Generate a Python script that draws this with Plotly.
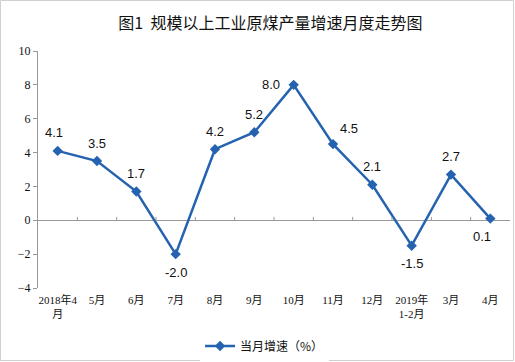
import plotly.graph_objects as go

categories = ["2018年4<br>月", "5月", "6月", "7月", "8月", "9月", "10月", "11月", "12月",
              "2019年<br>1-2月", "3月", "4月"]
growth = [4.1, 3.5, 1.7, -2.0, 4.2, 5.2, 8.0, 4.5, 2.1, -1.5, 2.7, 0.1]
series_name = "当月增速（%）"
title_text = "图1  规模以上工业原煤产量增速月度走势图"
y_ticks = [10, 8, 6, 4, 2, 0, -2, -4]

# label offsets (pixels) for each data label
label_dx = [-4, 0, 0, 0, 0, 0, -12, 16, 0, 0, 0, -8]
label_dy = [18, 18, 18, -18, 18, 18, 0, 16, 18, -18, 18, -18]
label_anchor = ["center"] * 12
label_anchor[6] = "right"

W, H = 515, 362
L, R, T, B = 38, 5, 51, 74
line_color = "#2563B0"

fig = go.Figure()
fig.add_trace(go.Scatter(
    x=categories, y=growth, mode="lines+markers", name=series_name,
    line=dict(color=line_color, width=2.5),
    marker=dict(symbol="diamond", size=8, color=line_color),
))

for i, (c, v) in enumerate(zip(categories, growth)):
    fig.add_annotation(
        x=c, y=v, text=f"{v:.1f}", showarrow=False,
        xshift=label_dx[i], yshift=label_dy[i], xanchor=label_anchor[i],
        font=dict(family="Liberation Sans, Arial", size=13, color="#111111"),
    )

# small tick marks on the zero line at category boundaries
for i in range(1, len(categories)):
    fig.add_shape(type="line", xref="x", yref="y", x0=i - 0.5, x1=i - 0.5,
                  y0=0, y1=0.2, line=dict(color="#999999", width=1))

pw, ph = W - L - R, H - T - B
fig.add_shape(type="rect", xref="paper", yref="paper",
              x0=-(L - 0.5) / pw, x1=1 + (R - 1.5) / pw,
              y0=-(B - 1.5) / ph, y1=1 + (T - 0.5) / ph,
              line=dict(color="#D0D0D0", width=1))

fig.update_layout(
    width=W, height=H,
    margin=dict(l=L, r=R, t=T, b=B, autoexpand=False),
    paper_bgcolor="white", plot_bgcolor="white",
    title=dict(text=title_text, x=0.525, xanchor="center", y=0.935, yanchor="middle",
               font=dict(family="Noto Sans CJK SC", size=16, color="#111111")),
    showlegend=True,
    legend=dict(orientation="h", x=0.48, xanchor="center", y=-0.245, yanchor="middle",
                itemwidth=30,
                font=dict(family="Noto Sans CJK SC", size=12, color="#111111")),
    xaxis=dict(showgrid=False, showline=False, zeroline=False, ticks="",
               automargin=False, ticklabelstandoff=4,
               tickfont=dict(family="Liberation Serif, Noto Sans CJK SC", size=11, color="#111111"),
               range=[-0.5, len(categories) - 0.5]),
    yaxis=dict(range=[-4, 10], tickvals=y_ticks, showgrid=False, automargin=False,
               showline=True, linecolor="#999999", linewidth=1,
               ticks="outside", ticklen=4, tickcolor="#999999",
               zeroline=True, zerolinecolor="#999999", zerolinewidth=1,
               tickfont=dict(family="Liberation Serif", size=12, color="#111111")),
)

fig.write_html("out.html", config={"displayModeBar": False},
               post_script="document.body.style.margin='0';document.body.style.overflow='hidden';")
